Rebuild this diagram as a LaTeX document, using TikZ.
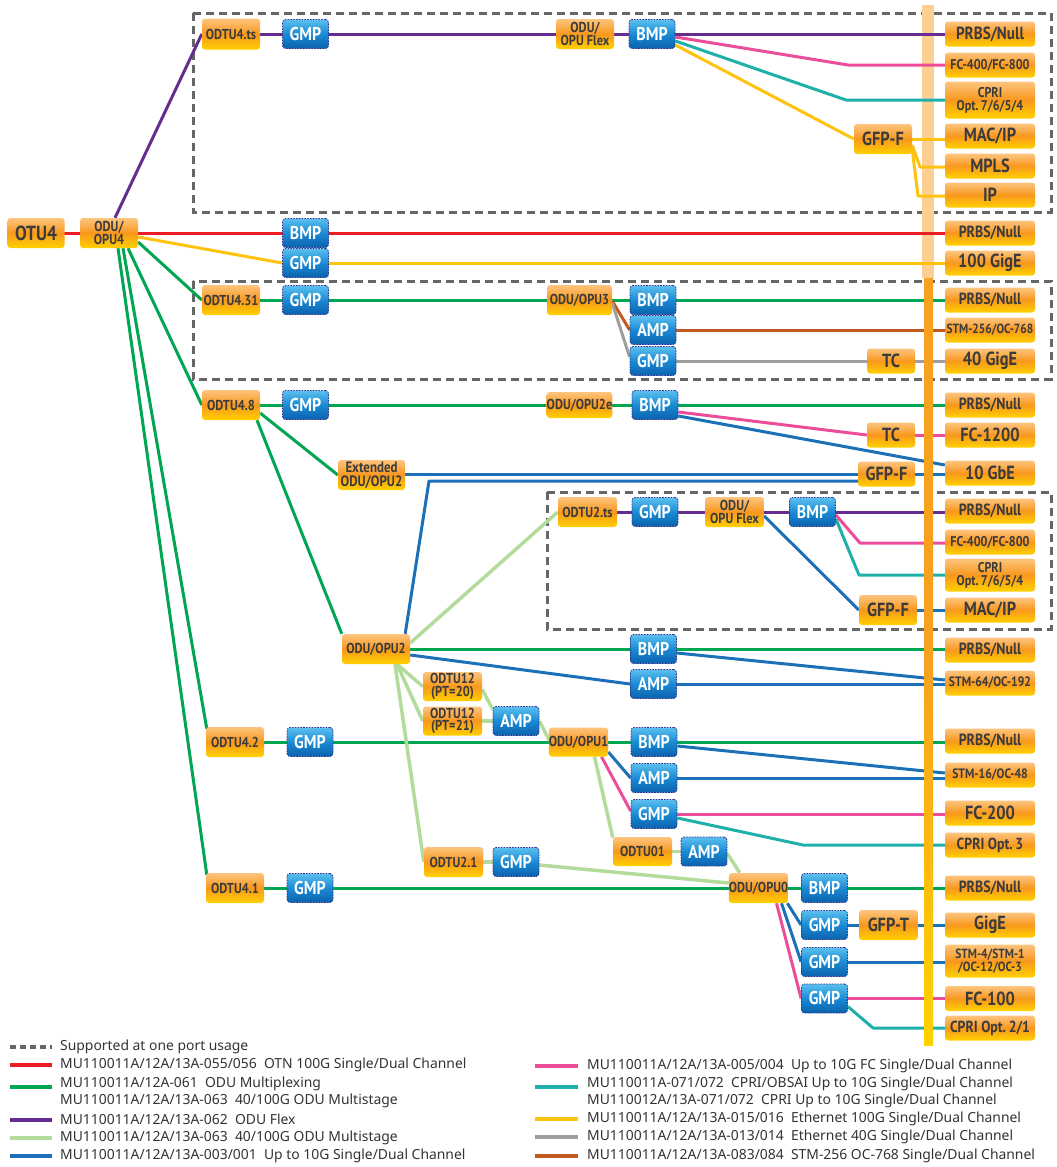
\documentclass[tikz,border=0pt]{standalone}
\usepackage{fontspec}
\setmainfont{Noto Sans}
\newfontfamily\lbl{PT Sans}[FakeStretch=0.86]
\usetikzlibrary{calc}
\pgfdeclarelayer{bg}
\pgfsetlayers{bg,main}
\definecolor{cRed}{HTML}{ED1C24}
\definecolor{cGreen}{HTML}{00A651}
\definecolor{cPurple}{HTML}{662D91}
\definecolor{cLgreen}{HTML}{B3DB9B}
\definecolor{cBlue}{HTML}{1B70B8}
\definecolor{cPink}{HTML}{EC4D9A}
\definecolor{cTeal}{HTML}{1FB0AA}
\definecolor{cYellow}{HTML}{FFC20E}
\definecolor{cGray}{HTML}{9E9E9E}
\definecolor{cBrown}{HTML}{C2591F}
\definecolor{cDash}{HTML}{666666}
\definecolor{oTop}{HTML}{FDC57F}
\definecolor{oMid}{HTML}{F8981D}
\definecolor{oBot}{HTML}{FFD100}
\definecolor{bTop}{HTML}{5BC0EE}
\definecolor{bMid}{HTML}{1A8AD4}
\definecolor{bBot}{HTML}{0B62AD}
\definecolor{bEdge}{HTML}{2E3192}
\definecolor{tDark}{HTML}{3B3B3B}
\definecolor{barLight}{HTML}{FDCF94}
\definecolor{barOr}{HTML}{F7A11E}
\definecolor{barYel}{HTML}{FFD200}
\definecolor{legTxt}{HTML}{333333}
\newcommand\fS{\fontsize{14.4}{13}\selectfont}
\newcommand\fR{\fontsize{16.2}{14}\selectfont}
\newcommand\fL{\fontsize{19}{18}\selectfont}
\newcommand\fT{\fontsize{14.1}{13.2}\selectfont}
\newcommand\fM{\fontsize{13.6}{13}\selectfont}
\newcommand\fX{\fontsize{13.3}{13}\selectfont}
\begin{document}
\begin{tikzpicture}[x=1pt,y=-1pt,
  ob/.style={rounded corners=3pt, inner sep=0pt, top color=oTop, bottom color=oBot, middle color=oMid,
    text=tDark, align=center, minimum width=58pt, minimum height=30pt, font=\lbl\bfseries\fS},
  rb/.style={ob, minimum width=90pt, minimum height=25pt, font=\lbl\bfseries\fR},
  bb/.style={rounded corners=3pt, inner sep=0pt, top color=bTop, bottom color=bBot, middle color=bMid,
    draw=bEdge, line width=0.8pt, dash pattern=on 1.6pt off 1.2pt, text=white,
    minimum width=46pt, minimum height=29pt, font=\lbl\bfseries\fontsize{18.5}{16}\selectfont},
  ln/.style={line width=3pt, line join=round},
  lg/.style={line width=3.5pt, cLgreen, line join=round},
  dbox/.style={cDash, line width=3pt, dash pattern=on 8pt off 5pt},
  legline/.style={line width=4pt},
  legtext/.style={anchor=west, inner sep=0pt, text=legTxt, font=\fontsize{13.9}{14}\selectfont}
]
\useasboundingbox (0,0) rectangle (1057,1167);

% left / middle orange nodes
\path
 node[ob,minimum width=57pt,font=\lbl\bfseries\fontsize{20.4}{18}\selectfont] (otu4) at (36,233) {OTU4}
 node[ob] (opu4) at (109,233) {ODU/\\OPU4}
 node[ob,minimum height=31pt] (t4ts) at (231,34) {ODTU4.ts}
 node[ob] (flex1) at (585,34) {ODU/\\OPU Flex}
 node[ob,font=\lbl\bfseries\fL] (gfpf1) at (883,139) {GFP-F}
 node[ob] (t431) at (231,300) {ODTU4.31}
 node[ob,minimum width=65pt] (opu3) at (579.5,300) {ODU/OPU3}
 node[ob,minimum width=48pt,minimum height=25pt,font=\lbl\bfseries\fL] (tc1) at (891,361) {TC}
 node[ob] (t48) at (231,405) {ODTU4.8}
 node[ob,minimum width=65pt,minimum height=26pt] (opu2e) at (579.5,405) {ODU/OPU2e}
 node[ob,minimum width=48pt,minimum height=25pt,font=\lbl\bfseries\fL] (tc2) at (891,435) {TC}
 node[ob,minimum width=57pt,minimum height=25pt,font=\lbl\bfseries\fL] (gfpf2) at (886.5,474) {GFP-F}
 node[ob,minimum width=67pt,font=\lbl\bfseries\fontsize{15}{14}\selectfont] (ext) at (371.5,475) {Extended\\ODU/OPU2}
 node[ob,minimum width=59pt] (t2ts) at (587.5,512) {ODTU2.ts}
 node[ob,minimum width=59pt] (flex2) at (734.5,512) {ODU/\\OPU Flex}
 node[ob,font=\lbl\bfseries\fL] (gfpf3) at (888,610) {GFP-F}
 node[ob,minimum width=68pt] (opu2) at (376,649) {ODU/OPU2}
 node[ob,minimum width=59pt,minimum height=29pt,font=\lbl\bfseries\fontsize{14.4}{12.5}\selectfont] (t12a) at (452.5,686.5) {ODTU12\\(PT=20)}
 node[ob,minimum width=59pt,minimum height=29pt,font=\lbl\bfseries\fontsize{14.4}{12.5}\selectfont] (t12b) at (452.5,721) {ODTU12\\(PT=21)}
 node[ob] (t42) at (235,742) {ODTU4.2}
 node[ob,minimum width=59pt,minimum height=29pt] (opu1) at (578.5,742) {ODU/OPU1}
 node[ob,minimum width=59pt,minimum height=29pt] (t01) at (642.5,851.5) {ODTU01}
 node[ob,minimum width=59pt] (t21) at (453.5,862) {ODTU2.1}
 node[ob] (t41) at (235,888) {ODTU4.1}
 node[ob,minimum width=59pt] (opu0) at (758.5,888) {ODU/OPU0}
 node[ob,minimum width=59pt,font=\lbl\bfseries\fL] (gfpt) at (888.5,925) {GFP-T};

% blue nodes
\path
 node[bb] (g1) at (305.5,34) {GMP}
 node[bb] (b1) at (652,34) {BMP}
 node[bb] (b2) at (305.5,233) {BMP}
 node[bb] (g2) at (305.5,263) {GMP}
 node[bb] (g3) at (305.5,300) {GMP}
 node[bb] (b3) at (653,300) {BMP}
 node[bb] (a3) at (653,330) {AMP}
 node[bb] (g3b) at (653,361) {GMP}
 node[bb] (g4) at (305.5,405) {GMP}
 node[bb] (b4) at (655,405) {BMP}
 node[bb] (g5) at (655,512) {GMP}
 node[bb] (b5) at (812.5,512) {BMP}
 node[bb] (b6) at (653.5,649) {BMP}
 node[bb] (a6) at (653.5,684) {AMP}
 node[bb] (a7) at (516,721) {AMP}
 node[bb] (g7) at (310,742) {GMP}
 node[bb] (b8) at (654,742) {BMP}
 node[bb] (a8) at (654,778) {AMP}
 node[bb] (g8) at (654,814) {GMP}
 node[bb] (a9) at (704,851.5) {AMP}
 node[bb] (g9) at (516,862) {GMP}
 node[bb] (g10) at (310,888) {GMP}
 node[bb] (b11) at (824.5,888) {BMP}
 node[bb] (g11) at (824.5,925) {GMP}
 node[bb] (g12) at (824.5,962) {GMP}
 node[bb] (g13) at (824.5,998.5) {GMP};

% right column
\path
 node[rb,font=\lbl\bfseries\fontsize{17.6}{15}\selectfont] (r1) at (990,34) {PRBS/Null}
 node[rb,font=\lbl\bfseries\fT] (r2) at (990,65) {FC-400/FC-800}
 node[rb,minimum height=37pt,font=\lbl\bfseries\fT] (r3) at (990,100) {CPRI\\Opt.\,7/6/5/4}
 node[rb,font=\lbl\bfseries\fL] (r4) at (990,136) {MAC/IP}
 node[rb,font=\lbl\bfseries\fL] (r5) at (990,166) {MPLS}
 node[rb,font=\lbl\bfseries\fL] (r6) at (990,195) {IP}
 node[rb] (r7) at (990,233) {PRBS/Null}
 node[rb,font=\lbl\bfseries\fL] (r8) at (990,263) {100 GigE}
 node[rb] (r9) at (990,300) {PRBS/Null}
 node[rb,font=\lbl\bfseries\fX] (r10) at (990,330) {STM-256/OC-768}
 node[rb,font=\lbl\bfseries\fL] (r11) at (990,361) {40 GigE}
 node[rb] (r12) at (990,405) {PRBS/Null}
 node[rb,font=\lbl\bfseries\fL] (r13) at (990,435) {FC-1200}
 node[rb,font=\lbl\bfseries\fL] (r14) at (990,473) {10 GbE}
 node[rb] (r15) at (990,511) {PRBS/Null}
 node[rb,font=\lbl\bfseries\fT] (r16) at (990,542) {FC-400/FC-800}
 node[rb,minimum height=33pt,font=\lbl\bfseries\fT] (r17) at (990,575) {CPRI\\Opt.\,7/6/5/4}
 node[rb,font=\lbl\bfseries\fL] (r18) at (990,610) {MAC/IP}
 node[rb] (r19) at (990,650) {PRBS/Null}
 node[rb,font=\lbl\bfseries\fM] (r20) at (990,683) {STM-64/OC-192}
 node[rb] (r21) at (990,741) {PRBS/Null}
 node[rb,font=\lbl\bfseries\fM] (r22) at (990,775) {STM-16/OC-48}
 node[rb,font=\lbl\bfseries\fL] (r23) at (990,813) {FC-200}
 node[rb,font=\lbl\bfseries\fontsize{16}{14}\selectfont] (r24) at (990,845) {CPRI Opt.\,3}
 node[rb] (r25) at (990,888) {PRBS/Null}
 node[rb,font=\lbl\bfseries\fL] (r26) at (990,925) {GigE}
 node[rb,minimum height=33pt,font=\lbl\bfseries\fX] (r27) at (990,961) {STM-4/STM-1\\/OC-12/OC-3}
 node[rb,font=\lbl\bfseries\fL] (r28) at (990,998.5) {FC-100}
 node[rb,font=\lbl\bfseries\fontsize{16}{14}\selectfont] (r29) at (990,1028) {CPRI Opt.\,2/1};

\begin{pgfonlayer}{bg}
% dashed regions
\draw[dbox] (193,13) rectangle (1051,212);
\draw[dbox] (193,281) rectangle (1051,379);
\draw[dbox] (547,492) rectangle (1051,629);
% light upper part of the bar (under lines)
\fill[barLight] (922,5) rectangle (934,278);

% --- horizontal runs
\draw[ln,cPurple] (t4ts.center) -- (t4ts.center -| r1.west);
\draw[ln,cRed] (otu4.center) -- (otu4.center -| r7.west);
\draw[ln,cYellow] (g2.center) -- (g2.center -| r8.west);
\draw[ln,cYellow] (gfpf1.center) -- (gfpf1.center -| r4.west);
\draw[ln,cGreen] (t431.center) -- (t431.center -| r9.west);
\draw[ln,cBrown] (a3.center) -- (a3.center -| r10.west);
\draw[ln,cGray] (g3b.center) -- (g3b.center -| r11.west);
\draw[ln,cGreen] (t48.center) -- (t48.center -| r12.west);
\draw[ln,cPink] (tc2.center) -- (tc2.center -| r13.west);
\draw[ln,cBlue] (gfpf2.center -| ext.east) -- (gfpf2.center -| r14.west);
\draw[ln,cPurple] (t2ts.center) -- (t2ts.center -| r15.west);
\draw[ln,cBlue] (gfpf3.center) -- (gfpf3.center -| r18.west);
\draw[ln,cGreen] (opu2.center) -- (opu2.center -| r19.west);
\draw[ln,cBlue] (a6.center) -- (a6.center -| r20.west);
\draw[ln,cGreen] (t42.center) -- (t42.center -| r21.west);
\draw[ln,cBlue] (a8.center) -- (a8.center -| r22.west);
\draw[ln,cPink] (g8.center) -- (g8.center -| r23.west);
\draw[ln,cGreen] (t41.center) -- (t41.center -| r25.west);
\draw[ln,cBlue] (g11.center) -- (g11.center -| r26.west);
\draw[ln,cBlue] (g12.center) -- (g12.center -| r27.west);
\draw[ln,cPink] (g13.center) -- (g13.center -| r28.west);
\draw[lg] (t12b.center) -- (a7.center);
\draw[lg] (t01.center) -- (a9.center);
\draw[lg] (t21.center) -- (g9.center);

% --- top group
\draw[ln,cPurple] ($(opu4.north)+(6,0)$) -- (t4ts.west);
\draw[ln,cYellow] ($(opu4.east)+(0,4)$) -- (g2.west);
\coordinate (k1) at (848,65);
\coordinate (k2) at (846,100);
\draw[ln,cPink] ($(b1.east)+(0,3)$) -- (k1) -- (k1 -| r2.west);
\draw[ln,cTeal] ($(b1.east)+(0,7)$) -- (k2) -- (k2 -| r3.west);
\draw[ln,cYellow] ($(b1.east)+(0,11)$) -- (gfpf1.west);
\coordinate (k3) at (920,167);
\coordinate (k4) at (918,196);
\draw[ln,cYellow] ($(gfpf1.east)+(0,6)$) -- (k3) -- (k3 -| r5.west);
\draw[ln,cYellow] ($(gfpf1.east)+(0,10)$) -- (k4) -- (k4 -| r6.west);

% --- ODU/OPU4 fan-out
\draw[ln,cGreen] ($(opu4.east)+(0,9)$) -- (t431.west);
\draw[ln,cGreen] ($(opu4.south)+(19,0)$) -- (t48.west);
\draw[ln,cGreen] ($(opu4.south)+(14,0)$) -- ($(t42.north west)+(1,2)$);
\draw[ln,cGreen] ($(opu4.south)+(9,0)$) -- ($(t41.north west)+(1,2)$);

% --- ODU/OPU3 group
\draw[ln,cBrown] ($(opu3.east)+(0,1)$) -- (a3.west);
\draw[ln,cGray] ($(opu3.east)+(0,3)$) -- ($(g3b.west)+(0,-4)$);

% --- ODTU4.8 group
\draw[ln,cPink] ($(b4.east)+(0,7)$) -- (tc2.west);
\draw[ln,cBlue] ($(b4.east)+(0,11)$) -- ($(r14.west)+(0,-8)$);
\draw[ln,cGreen] ($(t48.east)+(0,8)$) -- (ext.west);
\draw[ln,cGreen] ($(t48.south)+(26,0)$) -- (opu2.north west);
\coordinate (k5) at (429,481);
\draw[ln,cBlue] ($(opu2.north east)+(-5,0)$) -- (k5) -- (k5 -| gfpf2.west);

% --- ODTU2.ts group
\draw[lg] ($(opu2.east)+(0,-6)$) -- (t2ts.west);
\coordinate (k6) at (860,543);
\coordinate (k7) at (859,575);
\draw[ln,cPink] ($(b5.east)+(0,3)$) -- (k6) -- (k6 -| r16.west);
\draw[ln,cTeal] ($(b5.east)+(0,7)$) -- (k7) -- (k7 -| r17.west);
\draw[ln,cBlue] ($(flex2.east)+(0,4)$) -- (gfpf3.west);

% --- ODU/OPU2 group
\draw[ln,cBlue] ($(opu2.east)+(0,6)$) -- (a6.west);
\draw[ln,cBlue] ($(b6.east)+(0,4)$) -- ($(r20.west)+(0,-3)$);
\draw[lg] ($(opu2.south)+(21,0)$) -- (t12a.west);
\draw[lg] ($(opu2.south)+(21,0)$) -- (t12b.west);
\draw[lg] ($(opu2.south)+(19,0)$) -- (t21.west);
\draw[lg] ($(t12a.east)+(0,3)$) -- ($(a7.north west)+(0,3)$);
\draw[lg] (a7.east) -- ($(opu1.west)+(1,-1)$);

% --- ODU/OPU1 group
\draw[ln,cBlue] ($(b8.east)+(0,4)$) -- ($(r22.west)+(0,-2)$);
\draw[ln,cBlue] ($(opu1.east)+(0,10)$) -- (a8.west);
\draw[ln,cPink] ($(opu1.south)+(23,0)$) -- ($(g8.west)+(0,-3)$);
\coordinate (k8) at (803,845);
\draw[ln,cTeal] ($(g8.east)+(0,4)$) -- (k8) -- (k8 -| r24.west);
\draw[lg] ($(opu1.south)+(16,0)$) -- ($(t01.north west)+(0,1)$);
\draw[lg] ($(a9.east)+(0,2)$) -- ($(opu0.north west)+(11,0)$);
\draw[lg] ($(g9.east)+(0,3)$) -- ($(opu0.west)+(0,-5)$);

% --- ODU/OPU0 group
\draw[ln,cBlue] ($(opu0.south east)+(-1,0)$) -- (g11.west);
\draw[ln,cBlue] ($(opu0.south)+(23,0)$) -- (g12.west);
\draw[ln,cPink] ($(opu0.south)+(18,0)$) -- (g13.west);
\coordinate (k9) at (873,1028);
\draw[ln,cTeal] ($(g13.east)+(0,8)$) -- (k9) -- (k9 -| r29.west);

% orange part of the bar (over lines)
\shade[top color=barOr, bottom color=barYel, middle color=barOr] (924,278) rectangle (933,1045);
\end{pgfonlayer}

% ---------- legend
\draw[cDash, line width=4pt, dash pattern=on 6pt off 4pt] (10,1047) -- (52,1047);
\node[legtext] (lt0) at (60,1047) {Supported at one port usage};
\draw[legline,cRed] (10,1065) -- (52,1065);
\node[legtext] (lt1) at (60,1065) {MU110011A/12A/13A-055/056\ \ OTN 100G Single/Dual Channel};
\draw[legline,cGreen] (10,1087) -- (52,1087);
\node[legtext] (lt2) at (60,1084) {MU110011A/12A-061\ \ ODU Multiplexing};
\node[legtext] (lt3) at (60,1101) {MU110011A/12A/13A-063\ \ 40/100G ODU Multistage};
\draw[legline,cPurple] (10,1120) -- (52,1120);
\node[legtext] (lt4) at (60,1119) {MU110011A/12A/13A-062\ \ ODU Flex};
\draw[legline,cLgreen] (10,1138) -- (52,1138);
\node[legtext] (lt5) at (60,1138) {MU110011A/12A/13A-063\ \ 40/100G ODU Multistage};
\draw[legline,cBlue] (10,1156) -- (52,1156);
\node[legtext] (lt6) at (60,1156) {MU110011A/12A/13A-003/001\ \ Up to 10G Single/Dual Channel};

\draw[legline,cPink] (535,1066) -- (578,1066);
\node[legtext] (rt1) at (587,1066) {MU110011A/12A/13A-005/004\ \ Up to 10G FC Single/Dual Channel};
\draw[legline,cTeal] (535,1087) -- (578,1087);
\node[legtext] (rt2) at (587,1084) {MU110011A-071/072\ \ CPRI/OBSAI Up to 10G Single/Dual Channel};
\node[legtext] (rt3) at (587,1101) {MU110012A/13A-071/072\ \ CPRI Up to 10G Single/Dual Channel};
\draw[legline,cYellow] (535,1119) -- (578,1119);
\node[legtext] (rt4) at (587,1119) {MU110011A/12A/13A-015/016\ \ Ethernet 100G Single/Dual Channel};
\draw[legline,cGray] (535,1137) -- (578,1137);
\node[legtext] (rt5) at (587,1137) {MU110011A/12A/13A-013/014\ \ Ethernet 40G Single/Dual Channel};
\draw[legline,cBrown] (535,1156) -- (578,1156);
\node[legtext] (rt6) at (587,1156) {MU110011A/12A/13A-083/084\ \ STM-256 OC-768 Single/Dual Channel};
\end{tikzpicture}
\end{document}
